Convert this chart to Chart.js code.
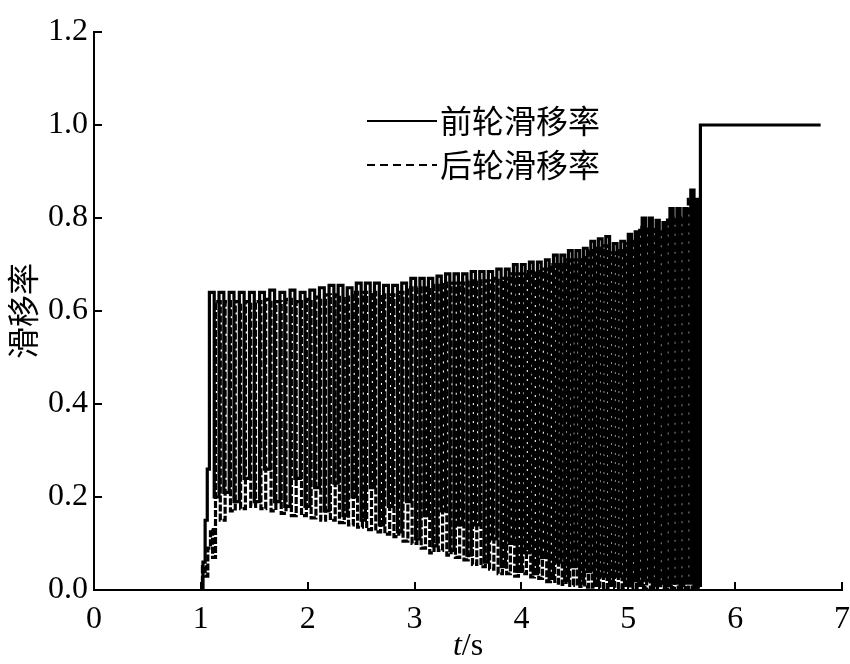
<!DOCTYPE html>
<html>
<head>
<meta charset="utf-8">
<script src="https://cdn.jsdelivr.net/npm/chart.js@4"></script>
<style>
  html, body { margin: 0; padding: 0; background: #fff; }
</style>
</head>
<body>
<canvas id="grafico" width="850" height="664"></canvas>
<script>
// 前轮滑移率 (solid)
const frontT = [1.00, 1.02, 1.04, 1.06, 1.08, 1.125, 1.17, 1.215, 1.265, 1.31, 1.36, 1.405, 1.455, 1.50, 1.55, 1.595, 1.645, 1.69, 1.74, 1.785,
  1.835, 1.88, 1.93, 1.975, 2.02, 2.065, 2.11, 2.155, 2.20, 2.245, 2.285, 2.33, 2.37, 2.415, 2.455, 2.50, 2.54, 2.585, 2.625, 2.67,
  2.71, 2.755, 2.795, 2.84, 2.88, 2.925, 2.965, 3.01, 3.05, 3.09, 3.13, 3.17, 3.21, 3.25, 3.29, 3.33, 3.37, 3.41, 3.45, 3.49,
  3.53, 3.57, 3.61, 3.65, 3.69, 3.73, 3.77, 3.81, 3.85, 3.885, 3.925, 3.96, 4.00, 4.035, 4.075, 4.11, 4.15, 4.185, 4.225, 4.26,
  4.30, 4.335, 4.37, 4.405, 4.44, 4.475, 4.51, 4.545, 4.58, 4.615, 4.65, 4.685, 4.72, 4.755, 4.79, 4.825, 4.86, 4.895, 4.93, 4.965,
  5.00, 5.03, 5.065, 5.095, 5.13, 5.16, 5.195, 5.225, 5.26, 5.29, 5.325, 5.355, 5.39, 5.42, 5.455, 5.485, 5.52, 5.55, 5.585, 5.615,
  5.645, 5.66, 5.675, 6.80];
const frontV = [0.00, 0.06, 0.15, 0.26, 0.64, 0.20, 0.64, 0.21, 0.64, 0.19, 0.64, 0.24, 0.64, 0.19, 0.64, 0.26, 0.645, 0.19, 0.64, 0.18,
  0.645, 0.24, 0.64, 0.18, 0.645, 0.22, 0.65, 0.17, 0.655, 0.23, 0.655, 0.16, 0.65, 0.20, 0.66, 0.15, 0.66, 0.22, 0.66, 0.14,
  0.655, 0.18, 0.655, 0.125, 0.66, 0.19, 0.67, 0.11, 0.67, 0.16, 0.67, 0.095, 0.675, 0.17, 0.68, 0.085, 0.68, 0.14, 0.68, 0.075,
  0.685, 0.14, 0.685, 0.06, 0.685, 0.11, 0.69, 0.05, 0.69, 0.10, 0.70, 0.04, 0.70, 0.08, 0.705, 0.035, 0.705, 0.07, 0.71, 0.025,
  0.72, 0.06, 0.72, 0.02, 0.73, 0.05, 0.73, 0.015, 0.735, 0.04, 0.75, 0.01, 0.755, 0.03, 0.76, 0.01, 0.745, 0.03, 0.75, 0.01,
  0.765, 0.02, 0.77, 0.01, 0.80, 0.02, 0.80, 0.01, 0.795, 0.015, 0.79, 0.01, 0.82, 0.015, 0.82, 0.01, 0.82, 0.015, 0.86, 0.01,
  0.84, 0.01, 1.00, 1.00];

// 后轮滑移率 (dashed)
const rearT = [1.00, 1.015, 1.04, 1.065, 1.09, 1.11, 1.137, 1.182, 1.227, 1.277, 1.322, 1.372, 1.417, 1.467, 1.512, 1.562, 1.607, 1.657, 1.702, 1.752,
  1.797, 1.847, 1.892, 1.942, 1.987, 2.032, 2.077, 2.122, 2.167, 2.212, 2.257, 2.297, 2.342, 2.382, 2.427, 2.467, 2.512, 2.552, 2.597, 2.637,
  2.682, 2.722, 2.767, 2.807, 2.852, 2.892, 2.937, 2.977, 3.022, 3.062, 3.102, 3.142, 3.182, 3.222, 3.262, 3.302, 3.342, 3.382, 3.422, 3.462,
  3.502, 3.542, 3.582, 3.622, 3.662, 3.702, 3.742, 3.782, 3.822, 3.862, 3.897, 3.937, 3.972, 4.012, 4.047, 4.087, 4.122, 4.162, 4.197, 4.237,
  4.272, 4.312, 4.347, 4.382, 4.417, 4.452, 4.487, 4.522, 4.557, 4.592, 4.627, 4.662, 4.697, 4.732, 4.767, 4.802, 4.837, 4.872, 4.907, 4.942,
  4.977, 5.012, 5.042, 5.077, 5.107, 5.142, 5.172, 5.207, 5.237, 5.272, 5.302, 5.337, 5.367, 5.402, 5.432, 5.467, 5.497, 5.532, 5.562, 5.597,
  5.627, 5.657, 5.668];
const rearV = [0.00, 0.05, 0.03, 0.09, 0.13, 0.07, 0.62, 0.15, 0.62, 0.17, 0.62, 0.175, 0.62, 0.18, 0.62, 0.175, 0.625, 0.17, 0.62, 0.165,
  0.625, 0.16, 0.62, 0.16, 0.625, 0.155, 0.63, 0.15, 0.635, 0.15, 0.635, 0.145, 0.63, 0.14, 0.64, 0.135, 0.64, 0.13, 0.64, 0.125,
  0.635, 0.12, 0.635, 0.115, 0.64, 0.105, 0.65, 0.10, 0.65, 0.09, 0.65, 0.08, 0.655, 0.085, 0.66, 0.075, 0.66, 0.07, 0.66, 0.065,
  0.665, 0.055, 0.665, 0.05, 0.665, 0.045, 0.67, 0.035, 0.67, 0.035, 0.68, 0.03, 0.68, 0.035, 0.685, 0.028, 0.685, 0.025, 0.69, 0.018,
  0.70, 0.015, 0.70, 0.012, 0.71, 0.01, 0.71, 0.008, 0.715, 0.006, 0.73, 0.006, 0.735, 0.005, 0.74, 0.005, 0.725, 0.005, 0.73, 0.005,
  0.745, 0.005, 0.75, 0.005, 0.78, 0.005, 0.78, 0.005, 0.775, 0.005, 0.77, 0.005, 0.80, 0.005, 0.80, 0.005, 0.80, 0.005, 0.84, 0.005,
  0.82, 0.005, 0.005];

const xTicks = [0, 1, 2, 3, 4, 5, 6, 7];
const yTicks = [0.0, 0.2, 0.4, 0.6, 0.8, 1.0, 1.2];
const seriesNames = ['前轮滑移率', '后轮滑移率'];

const serif = "'Liberation Serif', 'Times New Roman', serif";
const cjk = "'Noto Sans CJK SC', sans-serif";

// ticks para dentro, legenda e titulo do eixo x
const extras = {
  id: 'extras',
  afterDraw(chart) {
    const c = chart.ctx;
    const xs = chart.scales.x, ys = chart.scales.y;
    const area = chart.chartArea;
    c.save();
    c.strokeStyle = '#000';
    c.lineWidth = 2;
    c.beginPath();
    xTicks.forEach(v => {
      const px = Math.round(xs.getPixelForValue(v));
      c.moveTo(px, area.bottom);
      c.lineTo(px, area.bottom - 8);
    });
    yTicks.forEach(v => {
      const py = Math.round(ys.getPixelForValue(v));
      c.moveTo(area.left, py);
      c.lineTo(area.left + 8, py);
    });
    c.stroke();

    // legenda
    const items = [{ y: 121, dash: [] }, { y: 165, dash: [8, 5] }];
    items.forEach((it, i) => {
      c.setLineDash(it.dash);
      c.lineWidth = 2;
      c.beginPath();
      c.moveTo(367, it.y);
      c.lineTo(437, it.y);
      c.stroke();
      c.setLineDash([]);
      c.fillStyle = '#000';
      c.font = '32px ' + cjk;
      c.textBaseline = 'middle';
      c.textAlign = 'left';
      c.fillText(seriesNames[i], 440, it.y);
    });

    // t/s
    c.textBaseline = 'alphabetic';
    c.font = 'italic 32px ' + serif;
    const wt = c.measureText('t').width;
    c.font = '32px ' + serif;
    const ws = c.measureText('/s').width;
    const x0 = (area.left + area.right) / 2 - (wt + ws) / 2;
    c.font = 'italic 32px ' + serif;
    c.fillText('t', x0, 655);
    c.font = '32px ' + serif;
    c.fillText('/s', x0 + wt, 655);
    c.restore();
  }
};

function fixBox(size, key) {
  return function (scale) {
    scale[key] = size;
    scale.paddingLeft = 0;
    scale.paddingRight = 0;
    scale.paddingTop = 0;
    scale.paddingBottom = 0;
  };
}

const ctx = document.getElementById('grafico');
new Chart(ctx, {
  type: 'line',
  data: {
    datasets: [{
      label: seriesNames[0],
      data: frontT.map((t, i) => ({ x: t, y: frontV[i] })),
      borderColor: '#000',
      borderWidth: 3.2,
      stepped: true,
      pointRadius: 0,
      fill: false
    }, {
      label: seriesNames[1],
      data: rearT.map((t, i) => ({ x: t, y: rearV[i] })),
      borderColor: '#000',
      borderWidth: 3.2,
      borderDash: [7, 2],
      stepped: true,
      pointRadius: 0,
      fill: false
    }]
  },
  options: {
    responsive: false,
    animation: false,
    devicePixelRatio: 1,
    layout: { padding: { top: 32, right: 8, left: 0, bottom: 0 } },
    plugins: {
      legend: { display: false },
      tooltip: { enabled: false }
    },
    scales: {
      x: {
        type: 'linear',
        min: 0,
        max: 7,
        afterBuildTicks: s => { s.ticks = xTicks.map(v => ({ value: v })); },
        grid: { display: false, drawTicks: false },
        border: { display: true, color: '#000', width: 2 },
        ticks: {
          color: '#000',
          padding: 10,
          maxRotation: 0,
          font: { family: serif, size: 32 },
          callback: v => String(v)
        },
        afterFit: fixBox(74, 'height')
      },
      y: {
        min: 0,
        max: 1.2,
        afterBuildTicks: s => { s.ticks = yTicks.map(v => ({ value: v })); },
        grid: { display: false, drawTicks: false },
        border: { display: true, color: '#000', width: 2 },
        ticks: {
          color: '#000',
          padding: 6,
          font: { family: serif, size: 32 },
          callback: v => v.toFixed(1)
        },
        title: {
          display: true,
          text: '滑移率',
          color: '#000',
          font: { family: cjk, size: 32 },
          padding: { top: 4, bottom: 0 }
        },
        afterFit: fixBox(94, 'width')
      }
    }
  },
  plugins: [extras]
});
</script>
</body>
</html>
